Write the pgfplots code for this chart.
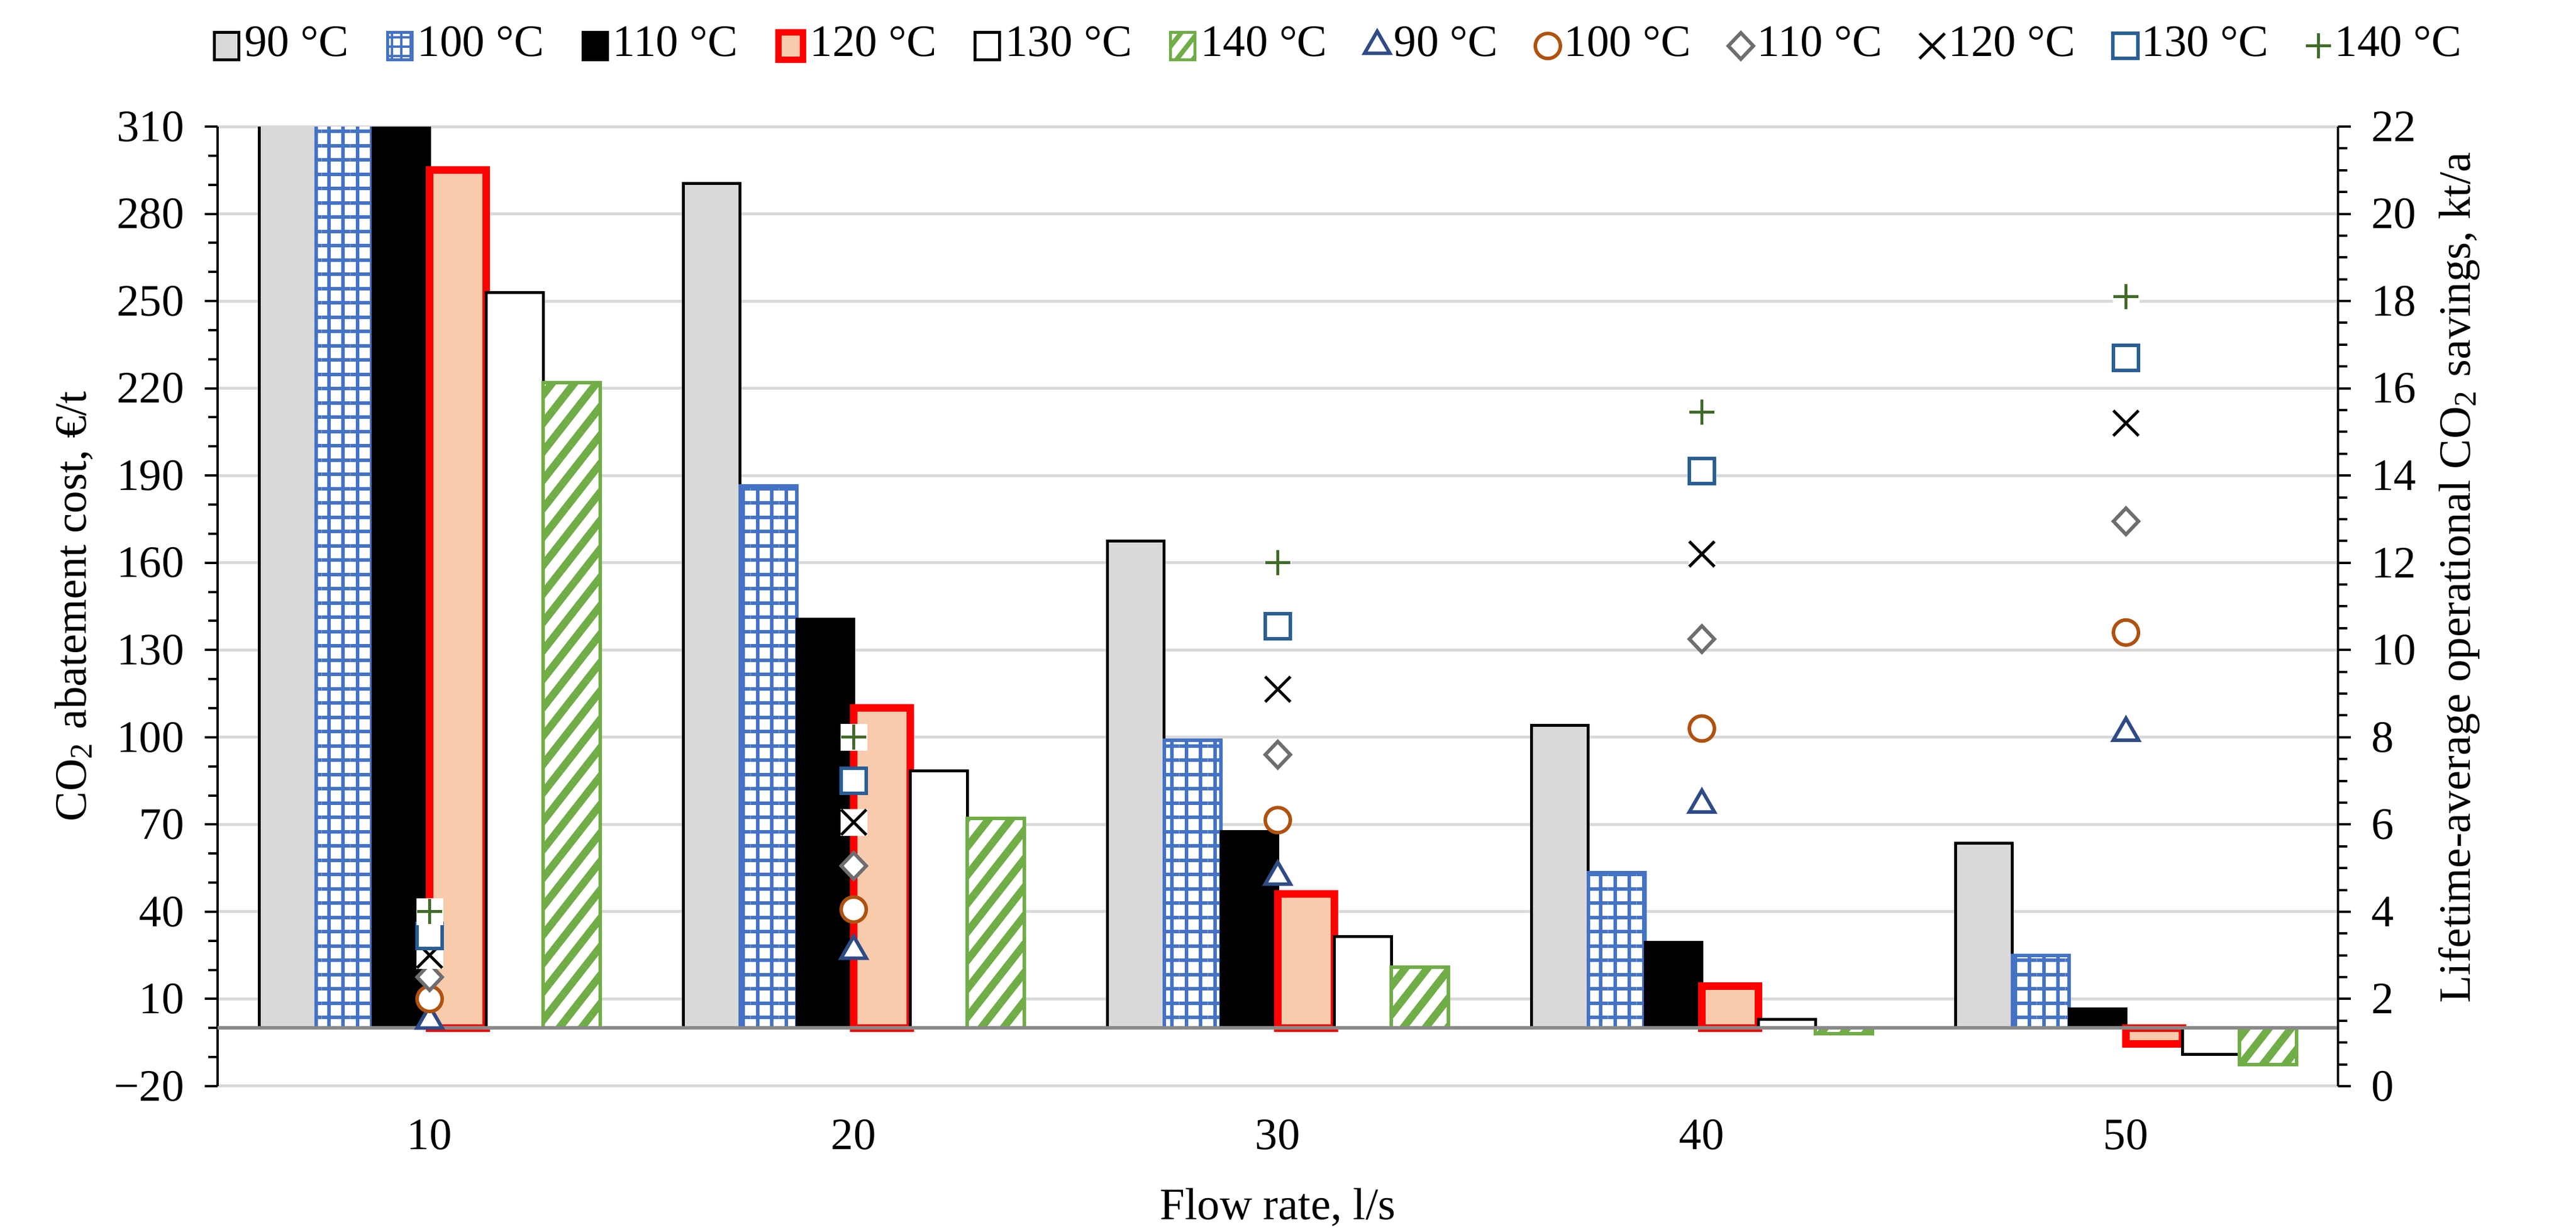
\documentclass[border=0pt]{standalone}
\usepackage{fontspec}
\setmainfont{Liberation Serif}
\usepackage{pgfplots}
\pgfplotsset{compat=1.18}
\usepackage{pgfplotstable}
\usetikzlibrary{patterns.meta}

\definecolor{barGray}{HTML}{D9D9D9}
\definecolor{barBlue}{HTML}{4472C4}
\definecolor{barPeach}{HTML}{F8CBAD}
\definecolor{barGreen}{HTML}{70AD47}
\definecolor{gridGray}{HTML}{D9D9D9}
\definecolor{zeroGray}{HTML}{898989}
\definecolor{mTri}{HTML}{2F4B85}
\definecolor{mCirc}{HTML}{B0520F}
\definecolor{mDia}{HTML}{6E6E6E}
\definecolor{mSq}{HTML}{2A5E94}
\definecolor{mPlus}{HTML}{406B28}

\pgfplotstableread{
x b90 b100 b110 b120 b130 b140
0 400 400 400 295 253 222
1 290.5 186.5 140.5 110 88.5 72
2 167.5 99 67.5 46 31.5 21
3 104 53.5 29.5 14.5 3 -2
4 63.5 25 6.5 -5.5 -9 -12.5
}\bars

\pgfplotstableread{
x m90 m100 m110 m120 m130 m140
0 1.5 2.0 2.5 3.0 3.45 4.0
1 3.1 4.05 5.05 6.05 7.0 8.0
2 4.8 6.1 7.6 9.1 10.55 12.0
3 6.45 8.2 10.25 12.2 14.1 15.45
4 8.1 10.4 12.95 15.2 16.7 18.1
}\marks

\pgfplotsset{
  barleg/.style={legend image code/.code={\draw[##1] (0pt,-2.35pt) rectangle (4.2pt,2.35pt);}},
  markleg/.style={legend image code/.code={\draw[##1] plot coordinates {(2.2pt,0pt)};}},
  common/.style={
    scale only axis, width=363.5pt, height=164.5pt,
    xmin=-0.5, xmax=4.5,
    tick align=outside,
    major tick length=2.2pt, minor tick length=1.6pt,
    every tick/.style={black, line width=0.4pt},
    /pgf/number format/assume math mode=true,
  },
}

\begin{document}
\begin{tikzpicture}[font=\fontsize{7.7}{9}\selectfont]
\path[use as bounding box] (-37.3pt,-25pt) rectangle (404.3pt,186.2pt);
\begin{axis}[
  common,
  ymin=-20, ymax=310,
  axis x line*=bottom, axis y line*=left,
  x axis line style={draw=none},
  y axis line style={black, line width=0.4pt},
  xtick={0,1,2,3,4}, xticklabels={10,20,30,40,50},
  xtick style={draw=none},
  ytick={-20,10,40,70,100,130,160,190,220,250,280,310},
  yticklabels={−20,10,40,70,100,130,160,190,220,250,280,310},
  minor y tick num=2,
  ymajorgrids, major grid style={gridGray, line width=0.5pt},
  ylabel={CO\textsubscript{2} abatement cost, €/t},
  ylabel style={at={(axis description cs:-0.0677,0.5)}, anchor=center, rotate=0},
  xlabel={Flow rate, l/s},
  xlabel style={at={(axis description cs:0.5,0)}, anchor=center, yshift=-20.8pt},
  ybar=0pt, bar width=9.74pt,
]
\addplot[fill=barGray, draw=black, line width=0.5pt] table[x=x,y=b90]{\bars};
\addplot[preaction={fill=white}, pattern={Hatch[angle=0,distance=2.45pt,line width=0.6pt]}, pattern color=barBlue, draw=barBlue, line width=0.6pt] table[x=x,y=b100]{\bars};
\addplot[fill=black, draw=black, line width=0.5pt] table[x=x,y=b110]{\bars};
\addplot[fill=barPeach, draw=red, line width=1.3pt] table[x=x,y=b120]{\bars};
\addplot[fill=white, draw=black, line width=0.5pt] table[x=x,y=b130]{\bars};
\addplot[preaction={fill=white}, pattern={Lines[angle=52,distance=3pt,line width=1.3pt]}, pattern color=barGreen, draw=barGreen, line width=0.6pt] table[x=x,y=b140]{\bars};
\draw[zeroGray, line width=0.6pt] (axis cs:-0.5,0) -- (axis cs:4.5,0);
\end{axis}

\begin{axis}[
  common,
  ymin=0, ymax=22,
  axis x line=none, axis y line*=right,
  y axis line style={black, line width=0.4pt},
  ytick={0,2,...,22},
  minor y tick num=3,
  ylabel={Lifetime-average operational CO\textsubscript{2} savings, kt/a},
  ylabel style={at={(axis description cs:1.057,0.53)}, anchor=center, rotate=0},
  legend columns=-1,
  legend style={draw=none, fill=none, at={(axis description cs:0.529,1.084)}, anchor=center,
    font=\fontsize{7.7}{9}\selectfont, nodes={inner sep=0.7pt},
    /tikz/every even column/.append style={column sep=5.7pt}},
]
\addlegendimage{barleg, fill=barGray, draw=black, line width=0.5pt}
\addlegendentry{90 °C}
\addlegendimage{barleg, preaction={fill=white}, pattern={Hatch[angle=0,distance=1.6pt,line width=0.45pt]}, pattern color=barBlue, draw=barBlue, line width=0.5pt}
\addlegendentry{100 °C}
\addlegendimage{barleg, fill=black, draw=black, line width=0.5pt}
\addlegendentry{110 °C}
\addlegendimage{barleg, fill=barPeach, draw=red, line width=1.1pt}
\addlegendentry{120 °C}
\addlegendimage{barleg, fill=white, draw=black, line width=0.5pt}
\addlegendentry{130 °C}
\addlegendimage{barleg, preaction={fill=white}, pattern={Lines[angle=52,distance=2.2pt,line width=0.8pt]}, pattern color=barGreen, draw=barGreen, line width=0.5pt}
\addlegendentry{140 °C}

\addplot[only marks, mark=triangle*, mark size=2.5pt, mark options={draw=mTri, fill=white, line width=0.6pt}, markleg] table[x=x,y=m90]{\marks};
\addlegendentry{90 °C}
\addplot[only marks, mark=*, mark size=2.15pt, mark options={draw=mCirc, fill=white, line width=0.6pt}, markleg] table[x=x,y=m100]{\marks};
\addlegendentry{100 °C}
\addplot[only marks, mark=diamond*, mark size=2.25pt, mark options={draw=mDia, fill=white, line width=0.6pt, xscale=1.27}, markleg] table[x=x,y=m110]{\marks};
\addlegendentry{110 °C}
\addplot[only marks, mark=square*, mark size=2.2pt, color=white, mark options={draw=white, fill=white, line width=0.2pt}, forget plot] table[x=x,y=m120]{\marks};
\addplot[only marks, mark=x, mark size=3.05pt, color=black, mark options={draw=black, line width=0.5pt}, markleg] table[x=x,y=m120]{\marks};
\addlegendentry{120 °C}
\addplot[only marks, mark=square*, mark size=2.15pt, mark options={draw=mSq, fill=white, line width=0.6pt}, markleg] table[x=x,y=m130]{\marks};
\addlegendentry{130 °C}
\addplot[only marks, mark=square*, mark size=2.2pt, color=white, mark options={draw=white, fill=white, line width=0.2pt}, forget plot] table[x=x,y=m140]{\marks};
\addplot[only marks, mark=+, mark size=2.15pt, color=mPlus, mark options={draw=mPlus, line width=0.5pt}, markleg] table[x=x,y=m140]{\marks};
\addlegendentry{140 °C}
\end{axis}
\end{tikzpicture}
\end{document}
